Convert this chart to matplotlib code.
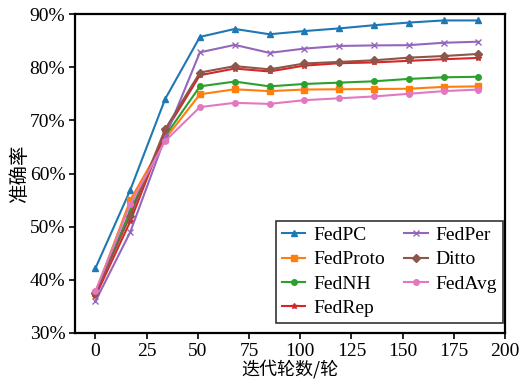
import numpy as np
import matplotlib
matplotlib.use("Agg")
import matplotlib.pyplot as plt

plt.rcParams['font.family'] = ['Liberation Serif', 'Noto Sans CJK SC']

rounds = [0, 17, 34, 51, 68, 85, 102, 119, 136, 153, 170, 187]
names = ["FedPC", "FedProto", "FedNH", "FedRep", "FedPer", "Ditto", "FedAvg"]
acc_fedpc = [42.2, 56.9, 74.0, 85.7, 87.2, 86.2, 86.8, 87.3, 87.9, 88.4, 88.8, 88.8]
acc_fedproto = [37.6, 55.0, 66.5, 74.9, 75.85, 75.5, 75.8, 75.85, 75.9, 75.95, 76.3, 76.4]
acc_fednh = [37.4, 53.0, 67.0, 76.4, 77.3, 76.4, 76.85, 77.1, 77.35, 77.8, 78.1, 78.2]
acc_fedrep = [36.9, 51.0, 67.8, 78.5, 79.75, 79.2, 80.3, 80.75, 80.9, 81.2, 81.5, 81.75]
acc_fedper = [36.0, 49.0, 66.8, 82.8, 84.2, 82.7, 83.5, 84.0, 84.1, 84.15, 84.6, 84.8]
acc_ditto = [37.5, 52.1, 68.3, 79.0, 80.2, 79.6, 80.7, 81.0, 81.3, 81.8, 82.1, 82.5]
acc_fedavg = [37.9, 54.2, 66.1, 72.5, 73.3, 73.1, 73.8, 74.15, 74.5, 75.0, 75.5, 75.8]

series = [acc_fedpc, acc_fedproto, acc_fednh, acc_fedrep, acc_fedper, acc_ditto, acc_fedavg]
colors = ["tab:blue", "tab:orange", "tab:green", "tab:red", "tab:purple", "tab:brown", "tab:pink"]
markers = ["^", "s", "o", "*", "x", "D", "o"]

fig = plt.figure(figsize=(5.19, 3.80), dpi=100)
ax = fig.add_axes([0.1445, 0.1237, 0.8285, 0.8393])
for name, vals, c, m in zip(names, series, colors, markers):
	ax.plot(rounds, vals, color=c, marker=m, markersize=4, linewidth=1.5, label=name)

ax.set_xlim(-10, 200)
ax.set_ylim(30, 90)
ax.set_xticks(np.arange(0, 201, 25))
ax.set_yticks(np.arange(30, 91, 10))
ax.set_yticklabels([f"{v}%" for v in range(30, 91, 10)])
ax.tick_params(direction='out', length=4, width=1.2, labelsize=14, pad=3)
for s in ax.spines.values():
	s.set_linewidth(1.6)
ax.set_xlabel("迭代轮数/轮", fontsize=13, family=['Noto Sans CJK SC'], labelpad=0)
ax.set_ylabel("准确率", fontsize=14, family=['Noto Sans CJK SC'], labelpad=0)
leg = ax.legend(ncol=2, loc='lower right', fontsize=14, fancybox=False, edgecolor='black',
	handlelength=1.2, handletextpad=0.4, columnspacing=1.0, labelspacing=0.35, borderpad=0.3,
	bbox_to_anchor=(0.995, 0.031), borderaxespad=0)
leg.get_frame().set_linewidth(1.2)
fig.savefig("out.png", dpi=100)
